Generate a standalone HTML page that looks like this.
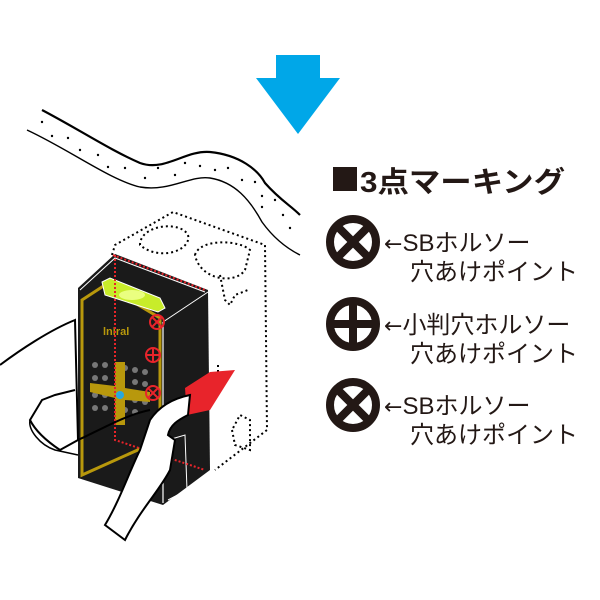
<!DOCTYPE html>
<html><head><meta charset="utf-8"><style>
html,body{margin:0;padding:0;background:#fff;}
svg{display:block}
text{font-family:"Liberation Sans","Noto Sans CJK JP",sans-serif;fill:#231815}
</style></head><body>
<svg width="600" height="600" viewBox="0 0 600 600" xmlns="http://www.w3.org/2000/svg">
<!-- blue arrow -->
<polygon points="276,55 320,55 320,78 340,78 298,134 256,78 276,78" fill="#00a7e8"/>
<!-- wave -->
<path d="M42,110 C80,130 110,150 140,163 C165,172 185,150 210,152 C240,155 258,170 265,183 C280,200 290,205 300,215" fill="none" stroke="#000" stroke-width="2.2"/>
<path d="M27,130 C70,150 110,180 140,187 C170,192 190,175 210,178 C235,182 250,200 262,222 C275,240 290,250 300,255" fill="none" stroke="#000" stroke-width="1.4"/>
<g fill="#000">
<circle cx="42" cy="122" r="1.2"/><circle cx="52" cy="136" r="1.2"/><circle cx="68" cy="138" r="1.2"/><circle cx="80" cy="150" r="1.2"/><circle cx="98" cy="155" r="1.2"/><circle cx="108" cy="167" r="1.2"/><circle cx="125" cy="168" r="1.2"/><circle cx="145" cy="178" r="1.2"/><circle cx="158" cy="168" r="1.2"/><circle cx="175" cy="175" r="1.2"/><circle cx="185" cy="163" r="1.2"/><circle cx="200" cy="166" r="1.2"/><circle cx="215" cy="170" r="1.2"/><circle cx="228" cy="168" r="1.2"/><circle cx="242" cy="180" r="1.2"/><circle cx="255" cy="182" r="1.2"/><circle cx="262" cy="196" r="1.2"/><circle cx="262" cy="207" r="1.2"/><circle cx="275" cy="200" r="1.2"/><circle cx="283" cy="215" r="1.2"/><circle cx="290" cy="228" r="1.2"/>
</g>
<!-- dotted box -->
<g fill="none" stroke="#000" stroke-width="2" stroke-dasharray="2,3">
<path d="M112,255 L115,245 L173,212 L265,245 L267,430 L215,470"/>
<path d="M140,245 C140,225 180,220 188,235 C192,250 160,262 140,245Z"/>
<path d="M195,255 C200,238 240,240 250,250 L245,270 C235,285 200,280 195,255Z"/>
<path d="M220,275 L225,300 L230,305 L235,295 L248,290"/>
<path d="M232,430 L235,445 L250,450 L250,420 L240,415Z"/>
<path d="M218,365 L218,382 L228,380"/>
</g>
<!-- device -->
<polygon points="78,288 115,254 208,290 210,470 163,505 78,478" fill="#1a1a1a"/>
<polygon points="82,300 105,285 160,318 160,440 82,475" fill="none" stroke="#b8980c" stroke-width="3"/>
<polyline points="80,290 115,258 205,292" fill="none" stroke="#fff" stroke-width="1"/>
<polyline points="163,322 163,503" fill="none" stroke="#fff" stroke-width="1.2"/>
<polyline points="163,322 208,292" fill="none" stroke="#fff" stroke-width="1"/>
<path d="M168,440 L185,435 L187,490 L168,500" fill="none" stroke="#fff" stroke-width="1"/>
<!-- level vial -->
<path d="M102,282 L110,278 L160,298 L165,308 L158,312 L105,295Z" fill="#c8ec2a" stroke="#fff" stroke-width="1"/>
<ellipse cx="132" cy="295" rx="13" ry="5" fill="#eaff80"/>
<!-- keypad dots -->
<g fill="#777">
<circle cx="95" cy="365" r="3"/><circle cx="105" cy="365" r="3"/><circle cx="125" cy="368" r="3"/><circle cx="135" cy="370" r="3"/><circle cx="145" cy="372" r="3"/>
<circle cx="95" cy="378" r="3"/><circle cx="105" cy="378" r="3"/><circle cx="135" cy="382" r="3"/><circle cx="145" cy="384" r="3"/>
<circle cx="95" cy="395" r="3"/><circle cx="105" cy="395" r="3"/><circle cx="135" cy="400" r="3"/><circle cx="145" cy="402" r="3"/>
<circle cx="95" cy="408" r="3"/><circle cx="105" cy="408" r="3"/><circle cx="125" cy="410" r="3"/><circle cx="135" cy="412" r="3"/>
</g>
<path d="M115,362 L125,362 L125,388 L150,392 L150,402 L125,400 L125,425 L115,425 L115,398 L90,392 L90,383 L115,386Z" fill="#b8980c"/>
<circle cx="120" cy="395" r="4" fill="#29a8e0"/>
<text x="103" y="335" font-size="11" font-weight="bold" style="fill:#b8980c">lnlral</text>
<!-- red dotted lines -->
<g fill="none" stroke="#e8242b" stroke-width="2" stroke-dasharray="2,2">
<path d="M113,255 L205,290"/>
<path d="M115,255 L115,440 L205,470"/>
</g>
<g fill="none" stroke="#e8242b" stroke-width="2">
<circle cx="157" cy="322" r="7"/><path d="M152,317 L162,327 M162,317 L152,327"/>
<circle cx="153" cy="355" r="7"/><path d="M146,355 L160,355 M153,348 L153,362"/>
<circle cx="153" cy="393" r="7"/><path d="M148,388 L158,398 M158,388 L148,398"/>
</g>
<polygon points="185,388 210,372 235,370 210,410 187,415" fill="#e8242b"/>
<!-- hand -->
<path d="M0,365 C20,350 50,330 75,320 L78,440 L60,450 C45,440 35,430 30,420 L42,400 L55,395 L75,390" fill="#fff" stroke="#000" stroke-width="2"/>
<path d="M30,420 C28,430 40,445 55,450 L78,455" fill="none" stroke="#000" stroke-width="1.5"/>
<path d="M105,525 C120,500 130,470 140,450 L150,420 C160,405 175,398 190,395 L188,415 C178,420 170,425 168,435 L175,440 L170,470 C160,490 140,510 125,540 Z" fill="#fff" stroke="#000" stroke-width="2"/>
<path d="M78,440 C100,430 125,415 150,410" fill="none" stroke="#000" stroke-width="2"/>
<!-- right panel -->
<rect x="333" y="167" width="24" height="24" fill="#231815"/>
<text x="360" y="192" font-size="29" font-weight="bold" textLength="205" lengthAdjust="spacingAndGlyphs">3点マーキング</text>
<g fill="none" stroke="#231815" stroke-width="8">
<circle cx="353" cy="242" r="23"/><path d="M339,228 L367,256 M367,228 L339,256"/>
<circle cx="353" cy="324" r="23"/><path d="M333,324 L373,324 M353,304 L353,344"/>
<circle cx="353" cy="405" r="23"/><path d="M339,391 L367,419 M367,391 L339,419"/>
</g>
<g font-size="24">
<text x="384" y="251"><tspan font-family="DejaVu Sans" font-size="22">←</tspan><tspan>SBホルソー</tspan></text>
<text x="410" y="280">穴あけポイント</text>
<text x="384" y="333"><tspan font-family="DejaVu Sans" font-size="22">←</tspan><tspan>小判穴ホルソー</tspan></text>
<text x="410" y="362">穴あけポイント</text>
<text x="384" y="414"><tspan font-family="DejaVu Sans" font-size="22">←</tspan><tspan>SBホルソー</tspan></text>
<text x="410" y="443">穴あけポイント</text>
</g>
</svg>
</body></html>
